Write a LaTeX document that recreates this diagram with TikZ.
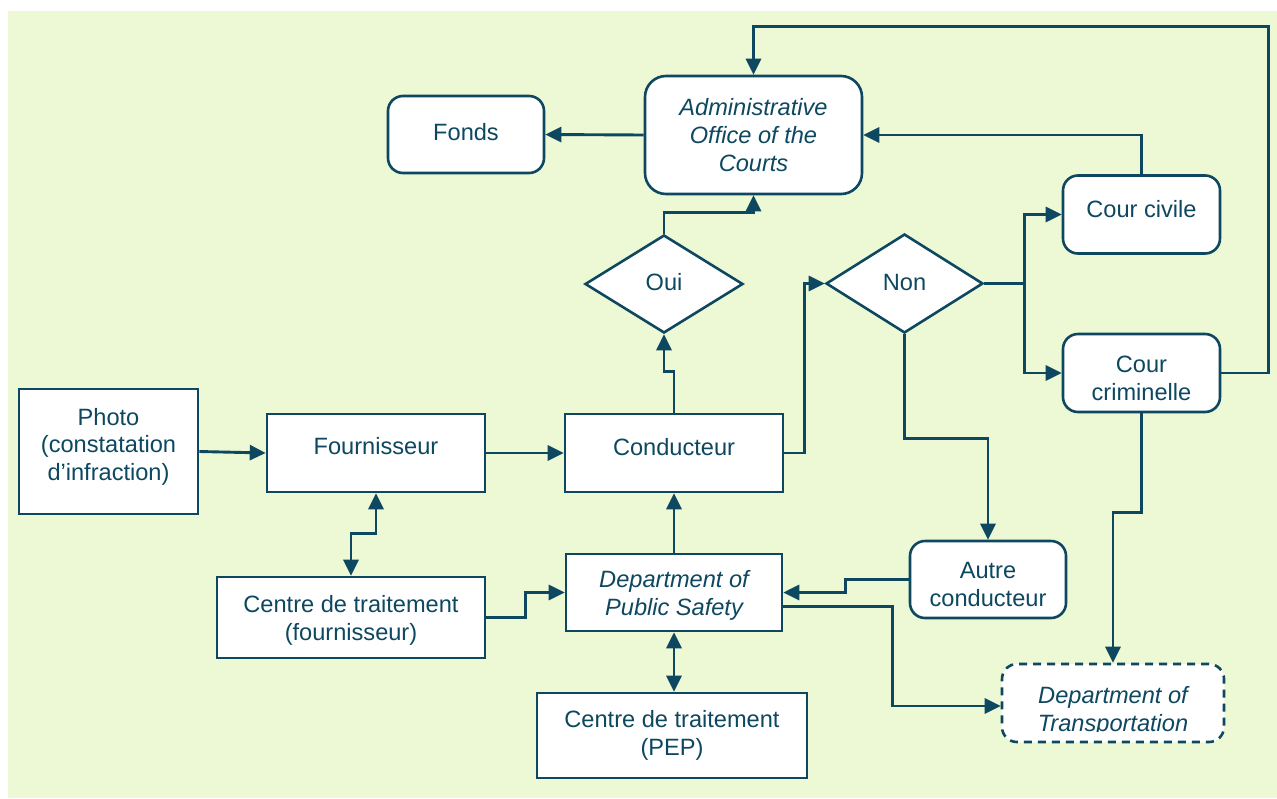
\documentclass[tikz,border=0pt]{standalone}
\usepackage{fontspec}
\setmainfont{Liberation Sans}
\usetikzlibrary{arrows.meta,shapes.geometric}

\definecolor{ink}{RGB}{13,72,96}
\definecolor{paper}{RGB}{237,248,213}

\tikzset{
  box/.style={draw=ink, fill=white, line width=2.6pt, rectangle, inner sep=0pt},
  rbox/.style={box, rounded corners=15pt},
  dbox/.style={rbox, dash pattern=on 8pt off 6pt},
  decision/.style={draw=ink, fill=white, line width=2.6pt, diamond, inner sep=0pt},
  txt/.style={text=ink, font=\fontsize{23.6}{28}\selectfont, align=center, inner sep=0pt},
  tip/.style={},
  conn/.style={draw=ink, line width=2.9pt, -{Triangle[length=16pt,width=15pt]}},
  biconn/.style={draw=ink, line width=2.9pt, {Triangle[length=16pt,width=15pt]}-{Triangle[length=16pt,width=15pt]}},
}

\begin{document}
\begin{tikzpicture}[x=1pt, y=-1pt]
  % canvas
  \useasboundingbox (0,0) rectangle (1277,798);
  \fill[white] (0,0) rectangle (1277,798);
  \fill[paper] (8,11) rectangle (1277,798);

  % top row
  \node[rbox, minimum width=156pt, minimum height=77pt,
        label={[txt, yshift=2pt]center:Fonds}] (fonds) at (466,134.5) {};
  \node[rbox, rounded corners=21pt, minimum width=217pt, minimum height=118pt,
        label={[txt, font=\fontsize{23.6}{28}\selectfont\itshape]center:Administrative\\Office of the\\Courts}] (aoc) at (753.5,135) {};

  % courts
  \node[rbox, minimum width=157pt, minimum height=78pt,
        label={[txt, yshift=5pt]center:Cour civile}] (civ) at (1141.5,214.5) {};
  \node[rbox, minimum width=157pt, minimum height=78pt,
        label={[txt, yshift=-5pt]center:Cour\\criminelle}] (crim) at (1141.5,373) {};

  % decisions
  \node[decision, minimum width=158pt, minimum height=98pt,
        label={[txt, yshift=1.5pt]center:Oui}] (oui) at (664,284) {};
  \node[decision, minimum width=157pt, minimum height=99pt,
        label={[txt, yshift=1.5pt]center:Non}] (non) at (904.5,283.5) {};

  % middle row
  \node[box, minimum width=179pt, minimum height=125pt,
        label={[txt, font=\fontsize{23.6}{27.5}\selectfont, yshift=5pt]center:Photo\\(constatation\\d’infraction)}] (photo) at (108.5,451.5) {};
  \node[box, minimum width=218pt, minimum height=78pt,
        label={[txt, yshift=6.5pt]center:Fournisseur}] (fourn) at (376,453) {};
  \node[box, minimum width=218pt, minimum height=78pt,
        label={[txt, yshift=6pt]center:Conducteur}] (cond) at (674,453) {};

  % lower rows
  \node[box, minimum width=268pt, minimum height=81pt,
        label={[txt, yshift=-2.5pt]center:Centre de traitement\\(fournisseur)}] (ctf) at (351,617.5) {};
  \node[box, minimum width=216pt, minimum height=77pt,
        label={[txt, font=\fontsize{23.6}{28}\selectfont\itshape, yshift=-2.5pt]center:Department of\\Public Safety}] (dps) at (674,592.5) {};
  \node[box, minimum width=270pt, minimum height=85pt,
        label={[txt]center:Centre de traitement\\(PEP)}] (pep) at (672,735.5) {};
  \node[rbox, minimum width=156pt, minimum height=77pt,
        label={[txt, yshift=-4.5pt]center:Autre\\conducteur}] (autre) at (988,579.5) {};
  \node[dbox, minimum width=222pt, minimum height=78pt] (dot) at (1113,703) {};
  \begin{scope}
    \clip (995,655) rectangle (1232,731);
    \node[txt, font=\fontsize{23.6}{28}\selectfont\itshape] (dot-t)
      at ([yshift=-8pt]dot.center) {Department of\\Transportation};
  \end{scope}

  % connectors
  \draw[conn] (photo.east) -- (fourn.west);
  \draw[conn] (fourn.east) -- (cond.west);
  \draw[biconn] (fourn.south) -- ++(0,40) -| (ctf.north);
  \draw[conn] (ctf.east) -- ++(39,0) |- (dps.west);
  \draw[conn] (dps.north) -- (cond.south);
  \draw[biconn] (dps.south) -- (dps.south |- pep.north);
  \draw[conn] (cond.north) -- ++(0,-41) -| (oui.south);
  \draw[conn] (oui.north) -- ++(0,-21) -| (aoc.south);
  \draw[conn] (aoc.west) -- (fonds.east);
  \draw[conn] (cond.east) -- ++(20,0) |- (non.west);
  \draw[conn] (non.east) -- ++(40,0) coordinate (split) |- (civ.west);
  \draw[conn] (split) |- (crim.west);
  \draw[conn] (civ.north) |- (aoc.east);
  \draw[conn] (crim.east) -- ++(47,0) |- ([yshift=48pt]aoc.north) -- (aoc.north);
  \draw[conn] (non.south) -- ++(0,104) -| (autre.north);
  \draw[conn] (autre.west) -- ++(-63,0) |- (dps.east);
  \draw[conn] ([yshift=-14pt]dps.east) -- ++(109,0) |- ([yshift=-3pt]dot.west);
  \draw[conn] (crim.south) -- ++(0,99) -| (dot.north);
\end{tikzpicture}
\end{document}
